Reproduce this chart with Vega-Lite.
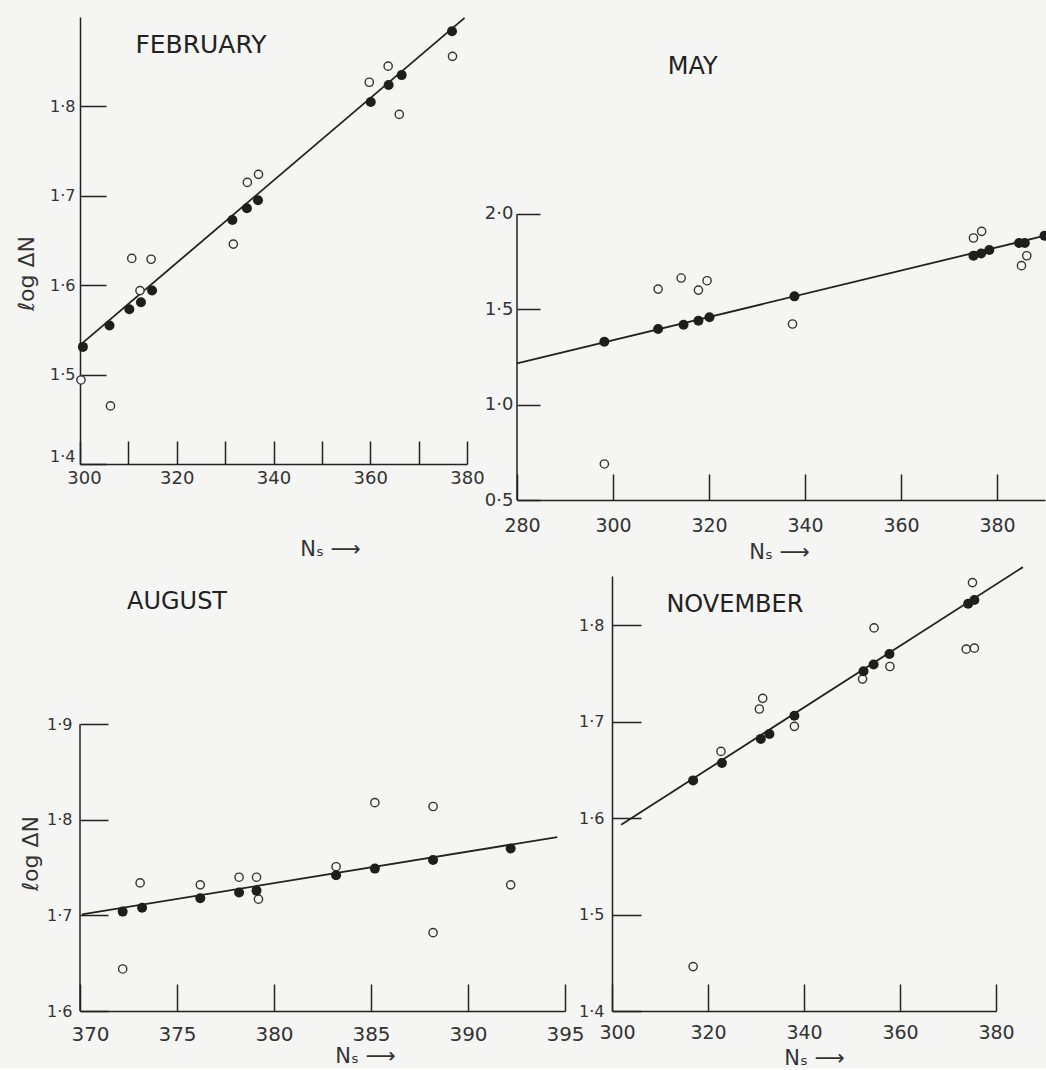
{
  "$schema": "https://vega.github.io/schema/vega-lite/v6.json",
  "background": "#f5f5f3",
  "padding": {"left": 15, "top": 14, "right": 0, "bottom": 0},
  "bounds": "flush",
  "columns": 2,
  "align": "each",
  "spacing": {"row": 76, "column": 47},
  "config": {
    "view": {"stroke": null},
    "font": "DejaVu Sans",
    "axis": {
      "grid": false,
      "domainColor": "#222",
      "domainWidth": 1.5,
      "tickColor": "#222",
      "tickWidth": 1.5,
      "labelColor": "#333",
      "labelFont": "DejaVu Sans",
      "titleFont": "DejaVu Sans",
      "titleColor": "#333",
      "titleFontWeight": "normal",
      "labelOverlap": false,
      "labelBound": false,
      "labelFlush": false
    }
  },
  "datasets": {
    "points": [
      {"month": "February", "series": "observed", "N": 300.2, "logdN": 1.494},
      {"month": "February", "series": "observed", "N": 306.3, "logdN": 1.465},
      {"month": "February", "series": "observed", "N": 310.7, "logdN": 1.630},
      {"month": "February", "series": "observed", "N": 312.4, "logdN": 1.594},
      {"month": "February", "series": "observed", "N": 314.7, "logdN": 1.629},
      {"month": "February", "series": "observed", "N": 331.7, "logdN": 1.646},
      {"month": "February", "series": "observed", "N": 334.6, "logdN": 1.715},
      {"month": "February", "series": "observed", "N": 336.9, "logdN": 1.724},
      {"month": "February", "series": "observed", "N": 359.8, "logdN": 1.827},
      {"month": "February", "series": "observed", "N": 363.7, "logdN": 1.845},
      {"month": "February", "series": "observed", "N": 366.0, "logdN": 1.791},
      {"month": "February", "series": "observed", "N": 377.0, "logdN": 1.856},
      {"month": "February", "series": "fitted", "N": 300.6, "logdN": 1.531},
      {"month": "February", "series": "fitted", "N": 306.1, "logdN": 1.555},
      {"month": "February", "series": "fitted", "N": 310.2, "logdN": 1.573},
      {"month": "February", "series": "fitted", "N": 312.6, "logdN": 1.581},
      {"month": "February", "series": "fitted", "N": 314.9, "logdN": 1.594},
      {"month": "February", "series": "fitted", "N": 331.5, "logdN": 1.673},
      {"month": "February", "series": "fitted", "N": 334.5, "logdN": 1.686},
      {"month": "February", "series": "fitted", "N": 336.8, "logdN": 1.695},
      {"month": "February", "series": "fitted", "N": 360.1, "logdN": 1.805},
      {"month": "February", "series": "fitted", "N": 363.8, "logdN": 1.824},
      {"month": "February", "series": "fitted", "N": 366.5, "logdN": 1.835},
      {"month": "February", "series": "fitted", "N": 376.9, "logdN": 1.884},
      {"month": "May", "series": "observed", "N": 298.2, "logdN": 0.689},
      {"month": "May", "series": "observed", "N": 309.4, "logdN": 1.606},
      {"month": "May", "series": "observed", "N": 314.2, "logdN": 1.664},
      {"month": "May", "series": "observed", "N": 317.8, "logdN": 1.601},
      {"month": "May", "series": "observed", "N": 319.6, "logdN": 1.650},
      {"month": "May", "series": "observed", "N": 337.4, "logdN": 1.423},
      {"month": "May", "series": "observed", "N": 375.1, "logdN": 1.874},
      {"month": "May", "series": "observed", "N": 376.8, "logdN": 1.909},
      {"month": "May", "series": "observed", "N": 385.1, "logdN": 1.729},
      {"month": "May", "series": "observed", "N": 386.2, "logdN": 1.781},
      {"month": "May", "series": "fitted", "N": 298.2, "logdN": 1.330},
      {"month": "May", "series": "fitted", "N": 309.4, "logdN": 1.397},
      {"month": "May", "series": "fitted", "N": 314.7, "logdN": 1.419},
      {"month": "May", "series": "fitted", "N": 317.8, "logdN": 1.440},
      {"month": "May", "series": "fitted", "N": 320.1, "logdN": 1.458},
      {"month": "May", "series": "fitted", "N": 337.8, "logdN": 1.568},
      {"month": "May", "series": "fitted", "N": 375.1, "logdN": 1.781},
      {"month": "May", "series": "fitted", "N": 376.7, "logdN": 1.793},
      {"month": "May", "series": "fitted", "N": 378.4, "logdN": 1.811},
      {"month": "May", "series": "fitted", "N": 384.6, "logdN": 1.848},
      {"month": "May", "series": "fitted", "N": 385.8, "logdN": 1.848},
      {"month": "May", "series": "fitted", "N": 389.9, "logdN": 1.886},
      {"month": "August", "series": "observed", "N": 372.2, "logdN": 1.644},
      {"month": "August", "series": "observed", "N": 373.1, "logdN": 1.734},
      {"month": "August", "series": "observed", "N": 376.2, "logdN": 1.732},
      {"month": "August", "series": "observed", "N": 378.2, "logdN": 1.740},
      {"month": "August", "series": "observed", "N": 379.1, "logdN": 1.740},
      {"month": "August", "series": "observed", "N": 379.2, "logdN": 1.717},
      {"month": "August", "series": "observed", "N": 383.2, "logdN": 1.751},
      {"month": "August", "series": "observed", "N": 385.2, "logdN": 1.818},
      {"month": "August", "series": "observed", "N": 388.2, "logdN": 1.814},
      {"month": "August", "series": "observed", "N": 388.2, "logdN": 1.682},
      {"month": "August", "series": "observed", "N": 392.2, "logdN": 1.732},
      {"month": "August", "series": "fitted", "N": 372.2, "logdN": 1.704},
      {"month": "August", "series": "fitted", "N": 373.2, "logdN": 1.708},
      {"month": "August", "series": "fitted", "N": 376.2, "logdN": 1.718},
      {"month": "August", "series": "fitted", "N": 378.2, "logdN": 1.724},
      {"month": "August", "series": "fitted", "N": 379.1, "logdN": 1.726},
      {"month": "August", "series": "fitted", "N": 383.2, "logdN": 1.742},
      {"month": "August", "series": "fitted", "N": 385.2, "logdN": 1.749},
      {"month": "August", "series": "fitted", "N": 388.2, "logdN": 1.758},
      {"month": "August", "series": "fitted", "N": 392.2, "logdN": 1.770},
      {"month": "November", "series": "observed", "N": 316.9, "logdN": 1.446},
      {"month": "November", "series": "observed", "N": 322.7, "logdN": 1.669},
      {"month": "November", "series": "observed", "N": 330.7, "logdN": 1.713},
      {"month": "November", "series": "observed", "N": 331.4, "logdN": 1.724},
      {"month": "November", "series": "observed", "N": 338.0, "logdN": 1.695},
      {"month": "November", "series": "observed", "N": 352.2, "logdN": 1.744},
      {"month": "November", "series": "observed", "N": 354.6, "logdN": 1.797},
      {"month": "November", "series": "observed", "N": 357.9, "logdN": 1.757},
      {"month": "November", "series": "observed", "N": 373.8, "logdN": 1.775},
      {"month": "November", "series": "observed", "N": 375.5, "logdN": 1.776},
      {"month": "November", "series": "observed", "N": 375.1, "logdN": 1.844},
      {"month": "November", "series": "fitted", "N": 316.9, "logdN": 1.639},
      {"month": "November", "series": "fitted", "N": 322.9, "logdN": 1.657},
      {"month": "November", "series": "fitted", "N": 331.0, "logdN": 1.682},
      {"month": "November", "series": "fitted", "N": 332.8, "logdN": 1.687},
      {"month": "November", "series": "fitted", "N": 338.0, "logdN": 1.706},
      {"month": "November", "series": "fitted", "N": 352.4, "logdN": 1.752},
      {"month": "November", "series": "fitted", "N": 354.5, "logdN": 1.759},
      {"month": "November", "series": "fitted", "N": 357.8, "logdN": 1.770},
      {"month": "November", "series": "fitted", "N": 374.2, "logdN": 1.822},
      {"month": "November", "series": "fitted", "N": 375.5, "logdN": 1.826}
    ],
    "lines": [
      {"month": "February", "N": 300.0, "logdN": 1.533},
      {"month": "February", "N": 379.5, "logdN": 1.899},
      {"month": "May", "N": 280.0, "logdN": 1.216},
      {"month": "May", "N": 390.0, "logdN": 1.886},
      {"month": "August", "N": 370.1, "logdN": 1.701},
      {"month": "August", "N": 394.6, "logdN": 1.782},
      {"month": "November", "N": 301.9, "logdN": 1.593},
      {"month": "November", "N": 385.6, "logdN": 1.860}
    ]
  },
  "concat": [
    {
      "width": 485,
      "height": 447,
      "layer": [
        {"data": {"name": "lines"}, "transform": [{"filter": "datum.month === 'February'"}],
         "mark": {"type": "line", "color": "#222", "strokeWidth": 1.8},
         "encoding": {
           "x": {"field": "N", "type": "quantitative",
             "scale": {"domain": [300, 380], "range": [0, 387], "nice": false, "zero": false},
             "axis": {"values": [300, 310, 320, 330, 340, 350, 360, 370, 380],
               "labelExpr": "datum.value % 20 == 0 ? datum.label : ''",
               "labelOffset": {"condition": {"test": "datum.value == 300", "value": 4}, "value": 0},
               "tickSize": -23, "labelPadding": 28, "labelFontSize": 18,
               "title": "Nₛ ⟶", "titleFontSize": 21, "titleX": 250, "titleY": 85, "titleBaseline": "middle"}},
           "y": {"field": "logdN", "type": "quantitative",
             "scale": {"domain": [1.4, 1.9], "nice": false, "zero": false},
             "axis": {"values": [1.4, 1.5, 1.6, 1.7, 1.8],
               "labelExpr": "replace(format(datum.value, '.1f'), '.', '·')",
               "labelBaseline": {"condition": {"test": "datum.value == 1.4", "value": "bottom"}, "value": "middle"},
               "tickSize": -26, "labelPadding": 31, "labelFontSize": 16,
               "title": "ℓog ΔN", "titleFontSize": 22, "titleX": -42, "titleY": 256}}
         }},
        {"data": {"name": "points"}, "transform": [{"filter": "datum.month === 'February' && datum.series === 'observed'"}],
         "mark": {"type": "point", "shape": "circle", "size": 68, "strokeWidth": 1.4, "stroke": "#333", "fill": "#f5f5f3", "filled": true, "opacity": 1},
         "encoding": {
           "x": {"field": "N", "type": "quantitative", "scale": {"domain": [300, 380], "range": [0, 387], "nice": false, "zero": false}},
           "y": {"field": "logdN", "type": "quantitative", "scale": {"domain": [1.4, 1.9], "nice": false, "zero": false}}
         }},
        {"data": {"name": "points"}, "transform": [{"filter": "datum.month === 'February' && datum.series === 'fitted'"}],
         "mark": {"type": "circle", "size": 100, "color": "#1e1e1e", "opacity": 1},
         "encoding": {
           "x": {"field": "N", "type": "quantitative", "scale": {"domain": [300, 380], "range": [0, 387], "nice": false, "zero": false}},
           "y": {"field": "logdN", "type": "quantitative", "scale": {"domain": [1.4, 1.9], "nice": false, "zero": false}}
         }},
        {"data": {"values": [{}]},
         "mark": {"type": "text", "fontSize": 25, "color": "#222", "font": "DejaVu Sans", "text": "FEBRUARY"},
         "encoding": {
           "x": {"datum": 325, "type": "quantitative", "scale": {"domain": [300, 380], "range": [0, 387], "nice": false, "zero": false}},
           "y": {"datum": 1.869, "type": "quantitative", "scale": {"domain": [1.4, 1.9], "nice": false, "zero": false}}
         }}
      ]
    },
    {
      "width": 433,
      "height": 483,
      "layer": [
        {"data": {"values": [{}]},
         "mark": {"type": "rule", "color": "#222", "strokeWidth": 1.5},
         "encoding": {
           "x": {"datum": 280, "type": "quantitative", "scale": {"domain": [280, 390], "range": [-95, 433], "nice": false, "zero": false}},
           "y": {"datum": 0.5, "type": "quantitative", "scale": {"domain": [0.5, 3.033], "nice": false, "zero": false}},
           "y2": {"datum": 2.0}
         }},
        {"data": {"name": "lines"}, "transform": [{"filter": "datum.month === 'May'"}],
         "mark": {"type": "line", "color": "#222", "strokeWidth": 1.8},
         "encoding": {
           "x": {"field": "N", "type": "quantitative",
             "scale": {"domain": [280, 390], "range": [-95, 433], "nice": false, "zero": false},
             "axis": {"values": [280, 290, 300, 310, 320, 330, 340, 350, 360, 370, 380, 390],
               "labelExpr": "datum.value % 20 == 0 ? datum.label : ''",
               "labelOffset": {"condition": {"test": "datum.value == 280", "value": 5}, "value": 0},
               "tickSize": -26, "labelPadding": 42, "labelFontSize": 19,
               "title": "Nₛ ⟶", "titleFontSize": 21, "titleX": 167, "titleY": 52, "titleBaseline": "middle"}},
           "y": {"field": "logdN", "type": "quantitative",
             "scale": {"domain": [0.5, 3.033], "nice": false, "zero": false},
             "axis": {"values": [0.5, 1.0, 1.5, 2.0],
               "labelExpr": "replace(format(datum.value, '.1f'), '.', '·')",
               "tickSize": -23, "labelPadding": 27, "labelFontSize": 18,
               "offset": 95, "domain": false, "title": null}}
         }},
        {"data": {"name": "points"}, "transform": [{"filter": "datum.month === 'May' && datum.series === 'observed'"}],
         "mark": {"type": "point", "shape": "circle", "size": 68, "strokeWidth": 1.4, "stroke": "#333", "fill": "#f5f5f3", "filled": true, "opacity": 1},
         "encoding": {
           "x": {"field": "N", "type": "quantitative", "scale": {"domain": [280, 390], "range": [-95, 433], "nice": false, "zero": false}},
           "y": {"field": "logdN", "type": "quantitative", "scale": {"domain": [0.5, 3.033], "nice": false, "zero": false}}
         }},
        {"data": {"name": "points"}, "transform": [{"filter": "datum.month === 'May' && datum.series === 'fitted'"}],
         "mark": {"type": "circle", "size": 100, "color": "#1e1e1e", "opacity": 1},
         "encoding": {
           "x": {"field": "N", "type": "quantitative", "scale": {"domain": [280, 390], "range": [-95, 433], "nice": false, "zero": false}},
           "y": {"field": "logdN", "type": "quantitative", "scale": {"domain": [0.5, 3.033], "nice": false, "zero": false}}
         }},
        {"data": {"values": [{}]},
         "mark": {"type": "text", "fontSize": 24, "color": "#222", "font": "DejaVu Sans", "text": "MAY"},
         "encoding": {
           "x": {"datum": 316.6, "type": "quantitative", "scale": {"domain": [280, 390], "range": [-95, 433], "nice": false, "zero": false}},
           "y": {"datum": 2.772, "type": "quantitative", "scale": {"domain": [0.5, 3.033], "nice": false, "zero": false}}
         }}
      ]
    },
    {
      "width": 485,
      "height": 435,
      "layer": [
        {"data": {"values": [{}]},
         "mark": {"type": "rule", "color": "#222", "strokeWidth": 1.5},
         "encoding": {
           "x": {"datum": 370, "type": "quantitative", "scale": {"domain": [370, 395], "nice": false, "zero": false}},
           "y": {"datum": 1.6, "type": "quantitative", "scale": {"domain": [1.6, 2.0552], "nice": false, "zero": false}},
           "y2": {"datum": 1.9}
         }},
        {"data": {"name": "lines"}, "transform": [{"filter": "datum.month === 'August'"}],
         "mark": {"type": "line", "color": "#222", "strokeWidth": 1.8},
         "encoding": {
           "x": {"field": "N", "type": "quantitative",
             "scale": {"domain": [370, 395], "nice": false, "zero": false},
             "axis": {"values": [370, 375, 380, 385, 390, 395],
               "labelOffset": {"condition": {"test": "datum.value == 370", "value": 10}, "value": 0},
               "tickSize": -27, "labelPadding": 40, "labelFontSize": 20,
               "title": "Nₛ ⟶", "titleFontSize": 21, "titleX": 285, "titleY": 45, "titleBaseline": "middle"}},
           "y": {"field": "logdN", "type": "quantitative",
             "scale": {"domain": [1.6, 2.0552], "nice": false, "zero": false},
             "axis": {"values": [1.6, 1.7, 1.8, 1.9],
               "labelExpr": "replace(format(datum.value, '.1f'), '.', '·')",
               "tickSize": -28, "labelPadding": 36, "labelFontSize": 16,
               "domain": false,
               "title": "ℓog ΔN", "titleFontSize": 22, "titleX": -38, "titleY": 277}}
         }},
        {"data": {"name": "points"}, "transform": [{"filter": "datum.month === 'August' && datum.series === 'observed'"}],
         "mark": {"type": "point", "shape": "circle", "size": 68, "strokeWidth": 1.4, "stroke": "#333", "fill": "#f5f5f3", "filled": true, "opacity": 1},
         "encoding": {
           "x": {"field": "N", "type": "quantitative", "scale": {"domain": [370, 395], "nice": false, "zero": false}},
           "y": {"field": "logdN", "type": "quantitative", "scale": {"domain": [1.6, 2.0552], "nice": false, "zero": false}}
         }},
        {"data": {"name": "points"}, "transform": [{"filter": "datum.month === 'August' && datum.series === 'fitted'"}],
         "mark": {"type": "circle", "size": 100, "color": "#1e1e1e", "opacity": 1},
         "encoding": {
           "x": {"field": "N", "type": "quantitative", "scale": {"domain": [370, 395], "nice": false, "zero": false}},
           "y": {"field": "logdN", "type": "quantitative", "scale": {"domain": [1.6, 2.0552], "nice": false, "zero": false}}
         }},
        {"data": {"values": [{}]},
         "mark": {"type": "text", "fontSize": 24, "color": "#222", "font": "DejaVu Sans", "text": "AUGUST"},
         "encoding": {
           "x": {"datum": 375, "type": "quantitative", "scale": {"domain": [370, 395], "nice": false, "zero": false}},
           "y": {"datum": 2.028, "type": "quantitative", "scale": {"domain": [1.6, 2.0552], "nice": false, "zero": false}}
         }}
      ]
    },
    {
      "width": 384,
      "height": 435,
      "layer": [
        {"data": {"name": "lines"}, "transform": [{"filter": "datum.month === 'November'"}],
         "mark": {"type": "line", "color": "#222", "strokeWidth": 1.8},
         "encoding": {
           "x": {"field": "N", "type": "quantitative",
             "scale": {"domain": [300, 380], "nice": false, "zero": false},
             "axis": {"values": [300, 320, 340, 360, 380],
               "labelOffset": {"condition": {"test": "datum.value == 300", "value": 5}, "value": 0},
               "tickSize": -27, "labelPadding": 39, "labelFontSize": 19,
               "title": "Nₛ ⟶", "titleFontSize": 21, "titleX": 202, "titleY": 47, "titleBaseline": "middle"}},
           "y": {"field": "logdN", "type": "quantitative",
             "scale": {"domain": [1.4, 1.8508], "nice": false, "zero": false},
             "axis": {"values": [1.4, 1.5, 1.6, 1.7, 1.8],
               "labelExpr": "replace(format(datum.value, '.1f'), '.', '·')",
               "tickSize": -29, "labelPadding": 37, "labelFontSize": 16,
               "title": null}}
         }},
        {"data": {"name": "points"}, "transform": [{"filter": "datum.month === 'November' && datum.series === 'observed'"}],
         "mark": {"type": "point", "shape": "circle", "size": 68, "strokeWidth": 1.4, "stroke": "#333", "fill": "#f5f5f3", "filled": true, "opacity": 1},
         "encoding": {
           "x": {"field": "N", "type": "quantitative", "scale": {"domain": [300, 380], "nice": false, "zero": false}},
           "y": {"field": "logdN", "type": "quantitative", "scale": {"domain": [1.4, 1.8508], "nice": false, "zero": false}}
         }},
        {"data": {"name": "points"}, "transform": [{"filter": "datum.month === 'November' && datum.series === 'fitted'"}],
         "mark": {"type": "circle", "size": 100, "color": "#1e1e1e", "opacity": 1},
         "encoding": {
           "x": {"field": "N", "type": "quantitative", "scale": {"domain": [300, 380], "nice": false, "zero": false}},
           "y": {"field": "logdN", "type": "quantitative", "scale": {"domain": [1.4, 1.8508], "nice": false, "zero": false}}
         }},
        {"data": {"values": [{}]},
         "mark": {"type": "text", "fontSize": 24, "color": "#222", "font": "DejaVu Sans", "text": "NOVEMBER"},
         "encoding": {
           "x": {"datum": 325.6, "type": "quantitative", "scale": {"domain": [300, 380], "nice": false, "zero": false}},
           "y": {"datum": 1.821, "type": "quantitative", "scale": {"domain": [1.4, 1.8508], "nice": false, "zero": false}}
         }}
      ]
    }
  ]
}
